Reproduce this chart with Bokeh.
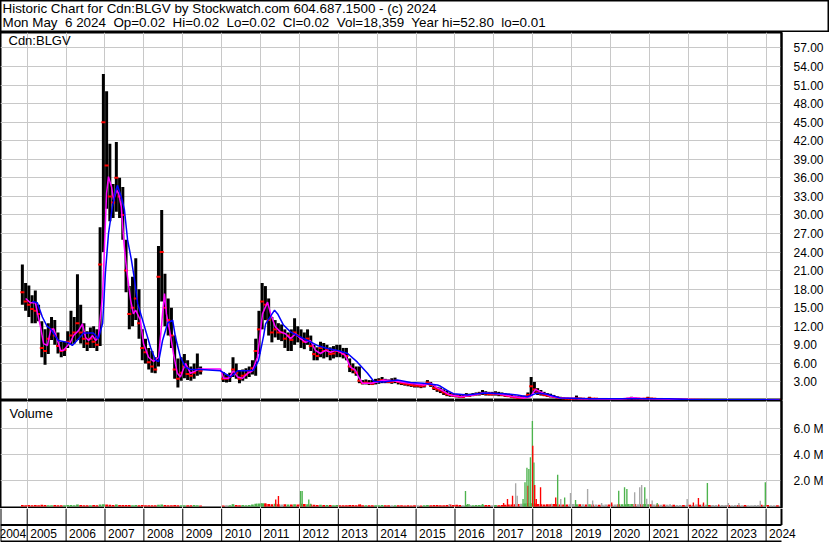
from bokeh.plotting import figure
from bokeh.layouts import column
from bokeh.models import Range1d, FixedTicker, NumeralTickFormatter, Label
from bokeh.core.properties import value
from bokeh.embed import file_html
from bokeh.resources import INLINE

FONT = "Liberation Sans"
NB = "\u00a0"

# ---------------- texts ----------------
title_line1 = "Historic Chart for Cdn:BLGV by Stockwatch.com 604.687.1500 - (c) 2024"
title_line2 = ("Mon May" + NB + " 6 2024" + NB + " Op=0.02" + NB + " Hi=0.02" + NB + " Lo=0.02" + NB +
               " Cl=0.02" + NB + " Vol=18,359" + NB + " Year hi=52.80" + NB + " lo=0.01")
symbol_label = "Cdn:BLGV"
volume_label = "Volume"

# ---------------- ticks ----------------
year_starts = [2004, 2005, 2006, 2007, 2008, 2009, 2010, 2011, 2012, 2013, 2014,
               2015, 2016, 2017, 2018, 2019, 2020, 2021, 2022, 2023, 2024]
year_labels = ["2004", "2005", "2006", "2007", "2008", "2009", "2010", "2011", "2012", "2013", "2014",
               "2015", "2016", "2017", "2018", "2019", "2020", "2021", "2022", "2023", "2024"]
price_ticks = [3, 6, 9, 12, 15, 18, 21, 24, 27, 30, 33, 36, 39, 42, 45, 48, 51, 54, 57]
vol_ticks = [2, 4, 6]               # millions
vol_tick_labels = ["2.0 M", "4.0 M", "6.0 M"]

# ---------------- monthly price data (Nov 2004 - May 2024, no trading Jul-Dec 2009) ----------------
highs = [
    22.0, 19.0,
    18.6, 17.0, 17.8, 15.5, 12.8, 11.5, 12.5, 13.5, 13.0, 11.0, 9.5, 9.5,
    11.2, 14.5, 13.5, 20.4, 15.5, 12.5, 11.2, 11.8, 12.0, 11.5, 28.0, 52.8,
    50.0, 41.5, 35.0, 41.8, 36.0, 34.5, 26.0, 18.5, 20.0, 23.0, 18.0, 11.5,
    10.0, 8.5, 8.0, 7.0, 25.0, 30.8, 20.5, 16.5, 15.0, 10.5, 6.8, 7.0,
    7.5, 6.5, 5.5, 6.0, 7.6, 5.5,
    4.6, 4.2, 4.5, 7.0, 6.0, 4.8, 5.0, 5.2, 5.5, 6.5, 10.0, 14.5,
    19.0, 18.5, 16.5, 13.5, 13.0, 12.5, 12.3, 11.5, 11.0, 11.5, 13.3, 12.0,
    11.5, 11.0, 11.5, 10.5, 9.0, 8.6, 9.5, 9.3, 9.0, 8.6, 8.8, 9.0,
    9.0, 8.5, 8.5, 6.8, 6.0, 5.5, 5.5, 3.3, 3.4, 3.3, 3.3, 3.5,
    3.6, 3.8, 3.5, 3.4, 3.6, 3.7, 3.3, 3.0, 3.0, 2.9, 2.8, 2.7,
    2.7, 2.7, 2.8, 3.3, 3.0, 2.5, 2.2, 2.1, 1.8, 1.6, 1.3, 1.1,
    1.0, 0.9, 0.9, 1.2, 1.1, 1.2, 1.3, 1.4, 1.7, 1.5, 1.4, 1.4,
    1.5, 1.4, 1.3, 1.2, 1.1, 0.9, 0.8, 0.7, 0.7, 0.8, 1.3, 3.8,
    3.0, 2.0, 1.7, 1.4, 1.2, 1.1, 0.9, 0.7, 0.6, 0.5, 0.45, 0.4,
    0.4, 0.8, 0.45, 0.4, 0.35, 0.6, 0.4, 0.4, 0.35, 0.35, 0.3, 0.3,
    0.3, 0.3, 0.25, 0.3, 0.35, 0.4, 0.6, 0.45, 0.4, 0.35, 0.4, 0.6,
    0.45, 0.4, 0.35, 0.3, 0.3, 0.28, 0.25, 0.22, 0.2, 0.2, 0.18, 0.18,
    0.15, 0.15, 0.14, 0.14, 0.13, 0.13, 0.12, 0.12, 0.12, 0.11, 0.11, 0.11,
    0.1, 0.1, 0.1, 0.09, 0.09, 0.09, 0.08, 0.08, 0.08, 0.07, 0.07, 0.07,
    0.06, 0.06, 0.05, 0.04, 0.03,
]
lows = [
    15.5, 14.5,
    13.5, 12.5, 12.5, 12.8, 7.0, 5.8, 7.5, 9.8, 9.0, 7.6, 7.0, 7.2,
    8.5, 9.0, 9.2, 9.8, 9.2, 8.5, 8.0, 8.5, 8.5, 8.0, 8.8, 24.0,
    31.0, 29.0, 29.5, 30.5, 29.5, 26.0, 17.5, 11.5, 12.0, 13.0, 10.0, 6.5,
    6.0, 5.0, 4.5, 4.4, 5.5, 16.0, 12.0, 10.5, 8.5, 3.5, 2.1, 3.2,
    3.6, 3.3, 3.2, 3.5, 4.0, 4.2,
    3.0, 2.9, 3.0, 3.8, 3.5, 2.8, 3.2, 3.5, 3.8, 4.2, 4.0, 7.5,
    11.5, 13.0, 10.5, 9.4, 10.2, 9.8, 9.6, 8.5, 8.0, 8.0, 9.0, 9.4,
    8.5, 8.3, 9.0, 8.0, 6.5, 6.5, 7.0, 6.8, 7.0, 6.5, 6.8, 7.0,
    7.0, 6.8, 6.5, 4.6, 4.4, 4.0, 2.8, 2.6, 2.6, 2.5, 2.5, 2.6,
    2.7, 2.8, 2.8, 2.8, 2.7, 2.8, 2.6, 2.5, 2.4, 2.3, 2.2, 2.1,
    2.1, 2.0, 2.1, 2.5, 2.2, 1.7, 1.4, 1.2, 0.9, 0.7, 0.6, 0.6,
    0.5, 0.45, 0.45, 0.6, 0.6, 0.7, 0.8, 0.8, 0.9, 0.8, 0.8, 0.8,
    0.8, 0.7, 0.7, 0.6, 0.6, 0.5, 0.4, 0.35, 0.35, 0.4, 0.5, 0.8,
    1.2, 0.9, 0.8, 0.7, 0.6, 0.5, 0.45, 0.35, 0.3, 0.3, 0.25, 0.2,
    0.2, 0.25, 0.2, 0.2, 0.2, 0.2, 0.2, 0.2, 0.18, 0.18, 0.15, 0.15,
    0.15, 0.15, 0.1, 0.12, 0.15, 0.2, 0.25, 0.2, 0.2, 0.18, 0.2, 0.25,
    0.2, 0.2, 0.15, 0.15, 0.12, 0.12, 0.12, 0.1, 0.1, 0.1, 0.08, 0.08,
    0.07, 0.07, 0.07, 0.06, 0.06, 0.06, 0.06, 0.05, 0.05, 0.05, 0.05, 0.05,
    0.04, 0.04, 0.04, 0.04, 0.04, 0.03, 0.03, 0.03, 0.03, 0.03, 0.03, 0.02,
    0.02, 0.02, 0.02, 0.01, 0.01,
]
closes = [
    17.5, 16.0,
    15.5, 14.8, 14.5, 14.0, 8.5, 8.0, 10.0, 11.5, 10.5, 8.8, 8.0, 8.2,
    9.5, 10.5, 11.0, 12.5, 11.0, 10.0, 9.2, 10.0, 9.5, 9.0, 22.0, 45.0,
    38.0, 33.0, 32.0, 36.0, 33.0, 30.0, 21.0, 14.0, 15.0, 16.5, 12.5, 8.5,
    7.8, 6.2, 5.5, 5.0, 20.0, 24.0, 15.0, 13.0, 10.5, 5.0, 3.5, 4.5,
    5.5, 4.3, 4.0, 4.5, 5.0, 4.8,
    3.5, 3.5, 3.8, 5.0, 4.5, 3.5, 4.0, 4.2, 4.6, 5.2, 8.0, 11.5,
    16.0, 15.5, 13.0, 11.0, 11.5, 11.0, 11.0, 10.0, 10.5, 9.8, 11.0, 10.5,
    10.0, 9.5, 10.0, 8.8, 7.5, 7.2, 8.5, 8.0, 8.2, 7.5, 7.6, 8.0,
    7.8, 7.5, 7.2, 5.5, 5.0, 4.5, 3.2, 2.8, 2.9, 2.8, 2.7, 3.0,
    3.2, 3.3, 3.1, 3.0, 3.0, 3.2, 3.0, 2.8, 2.7, 2.6, 2.5, 2.4,
    2.4, 2.3, 2.4, 2.9, 2.5, 2.0, 1.8, 1.6, 1.3, 1.0, 0.9, 0.8,
    0.7, 0.6, 0.6, 0.8, 0.8, 0.9, 1.0, 1.1, 1.2, 1.1, 1.0, 1.0,
    1.1, 1.0, 0.9, 0.8, 0.7, 0.6, 0.5, 0.45, 0.45, 0.5, 0.9, 2.3,
    1.8, 1.3, 1.1, 0.9, 0.8, 0.7, 0.6, 0.5, 0.4, 0.35, 0.3, 0.3,
    0.3, 0.35, 0.3, 0.3, 0.25, 0.35, 0.3, 0.3, 0.25, 0.25, 0.25, 0.2,
    0.2, 0.2, 0.15, 0.2, 0.25, 0.3, 0.35, 0.3, 0.3, 0.25, 0.3, 0.35,
    0.3, 0.3, 0.25, 0.25, 0.2, 0.2, 0.2, 0.15, 0.15, 0.15, 0.12, 0.12,
    0.1, 0.1, 0.1, 0.09, 0.09, 0.09, 0.08, 0.08, 0.08, 0.08, 0.08, 0.08,
    0.07, 0.07, 0.07, 0.06, 0.06, 0.05, 0.05, 0.05, 0.05, 0.05, 0.04, 0.04,
    0.03, 0.03, 0.03, 0.02, 0.02,
]
# monthly background volume, thousands of shares
base_volume = [
    120, 100,
    110, 100, 120, 90, 130, 110, 100, 90, 110, 100, 90, 100,
    110, 120, 100, 150, 110, 100, 90, 100, 110, 100, 140, 160,
    150, 130, 110, 140, 120, 110, 120, 110, 100, 110, 100, 110,
    100, 90, 100, 90, 130, 140, 110, 100, 90, 110, 100, 90,
    90, 100, 90, 110, 100, 80,
    80, 90, 100, 160, 110, 90, 110, 100, 120, 140, 200, 230,
    250, 220, 180, 160, 200, 170, 150, 160, 140, 150, 170, 150,
    200, 180, 160, 150, 130, 120, 130, 120, 110, 110, 100, 110,
    100, 100, 100, 120, 110, 100, 140, 100, 90, 90, 90, 100,
    100, 110, 90, 100, 90, 100, 90, 90, 80, 90, 80, 90,
    90, 80, 90, 110, 100, 120, 110, 100, 100, 120, 150, 120,
    130, 120, 100, 120, 110, 100, 110, 120, 130, 120, 110, 100,
    110, 100, 120, 130, 140, 150, 160, 180, 200, 220, 250, 250,
    220, 180, 160, 150, 160, 170, 180, 160, 150, 140, 140, 160,
    180, 170, 160, 170, 150, 160, 150, 140, 130, 130, 140, 150,
    150, 140, 160, 170, 160, 180, 190, 180, 170, 170, 180, 170,
    160, 150, 140, 130, 140, 130, 120, 130, 120, 120, 110, 120,
    130, 120, 140, 130, 140, 130, 120, 110, 120, 110, 110, 120,
    110, 100, 120, 110, 100, 110, 100, 100, 110, 120, 130, 120,
    110, 100, 90, 100, 80,
]

# single-day volume spikes: (decimal year, millions of shares, colour)
volume_spikes = [
    (2010.28, 0.15, "green"), (2010.90, 0.20, "green"), (2011.02, 0.23, "green"),
    (2011.08, 0.23, "green"), (2011.12, 0.22, "red"), (2011.39, 0.54, "red"),
    (2011.46, 0.80, "red"), (2012.03, 1.20, "green"), (2012.07, 1.20, "green"),
    (2012.24, 0.54, "green"), (2012.29, 0.20, "green"), (2013.57, 0.15, "red"),
    (2015.86, 0.18, "gray"), (2016.27, 1.20, "green"), (2016.32, 0.18, "green"),
    (2016.36, 0.18, "green"), (2016.71, 0.18, "green"), (2017.25, 0.26, "red"),
    (2017.35, 0.57, "red"), (2017.48, 0.83, "red"), (2017.56, 1.80, "gray"),
    (2017.60, 0.83, "gray"), (2017.75, 0.57, "green"), (2017.80, 1.87, "green"),
    (2017.85, 3.00, "green"), (2017.88, 1.60, "red"), (2017.90, 2.90, "green"),
    (2017.94, 3.80, "green"), (2017.99, 6.60, "green"), (2018.00, 4.70, "red"),
    (2018.03, 3.40, "green"), (2018.05, 1.66, "red"), (2018.09, 0.57, "red"),
    (2018.20, 1.48, "red"), (2018.48, 0.20, "gray"), (2018.59, 0.70, "red"),
    (2018.64, 2.44, "green"), (2018.72, 0.57, "gray"), (2018.82, 0.70, "green"),
    (2018.97, 1.04, "gray"), (2019.10, 0.50, "green"), (2019.41, 1.35, "gray"),
    (2019.54, 0.45, "gray"), (2019.77, 0.26, "gray"), (2020.03, 0.30, "red"),
    (2020.21, 1.22, "green"), (2020.36, 1.48, "green"), (2020.42, 1.35, "green"),
    (2020.62, 1.10, "gray"), (2020.75, 1.48, "gray"), (2020.80, 1.66, "gray"),
    (2020.88, 1.48, "green"), (2020.93, 0.60, "gray"), (2021.07, 0.45, "gray"),
    (2021.20, 0.26, "green"), (2021.53, 0.18, "gray"), (2021.97, 0.57, "gray"),
    (2022.13, 0.30, "red"), (2022.26, 0.65, "red"), (2022.39, 0.30, "red"),
    (2022.49, 1.82, "green"), (2022.78, 0.15, "red"), (2023.03, 0.26, "gray"),
    (2023.30, 0.26, "gray"), (2023.85, 0.44, "gray"), (2023.98, 1.87, "green"),
]

# moving averages: (decimal year, price)
ma_short = [
    (2004.96, 16.5), (2005.08, 15.8), (2005.21, 15.8), (2005.26, 14.2), (2005.34, 12.0),
    (2005.42, 9.2), (2005.52, 8.9), (2005.60, 11.3), (2005.68, 11.6), (2005.78, 9.7),
    (2005.86, 8.1), (2005.93, 8.1), (2006.04, 8.9), (2006.11, 9.4), (2006.19, 10.5),
    (2006.32, 11.3), (2006.42, 12.4), (2006.50, 10.2), (2006.58, 9.7), (2006.68, 10.5),
    (2006.76, 9.7), (2006.83, 10.2), (2006.94, 17.3), (2006.99, 25.4), (2007.04, 33.5),
    (2007.09, 36.2), (2007.17, 34.5), (2007.22, 32.4), (2007.30, 34.0), (2007.35, 33.5),
    (2007.42, 31.3), (2007.48, 26.0), (2007.53, 22.7), (2007.58, 20.0), (2007.66, 16.2),
    (2007.73, 14.0), (2007.79, 14.6), (2007.91, 13.0), (2007.99, 9.2), (2008.12, 7.0),
    (2008.25, 6.3), (2008.38, 7.0), (2008.48, 14.0), (2008.53, 17.3), (2008.58, 14.0),
    (2008.66, 11.4), (2008.76, 7.6), (2008.86, 4.4), (2008.94, 3.8), (2009.07, 6.0),
    (2009.20, 4.4), (2009.33, 4.8), (2009.41, 5.1), (2009.97, 5.1), (2010.05, 3.6),
    (2010.18, 3.6), (2010.30, 4.8), (2010.41, 3.8), (2010.54, 3.6), (2010.67, 4.4),
    (2010.79, 4.8), (2010.92, 7.0), (2011.05, 14.0), (2011.18, 15.9), (2011.26, 14.0),
    (2011.38, 11.9), (2011.51, 11.1), (2011.64, 10.8), (2011.77, 10.0), (2011.90, 10.8),
    (2012.03, 10.0), (2012.16, 9.4), (2012.28, 9.7), (2012.41, 8.1), (2012.54, 7.6),
    (2012.67, 8.1), (2012.80, 7.8), (2012.93, 8.1), (2013.06, 7.8), (2013.18, 7.3),
    (2013.31, 5.4), (2013.44, 4.9), (2013.52, 3.8), (2013.62, 2.8), (2013.83, 2.8),
    (2014.01, 3.0), (2014.16, 3.3), (2014.42, 3.2), (2014.68, 2.9), (2014.94, 2.7),
    (2015.19, 2.5), (2015.37, 2.8), (2015.55, 2.0), (2015.63, 1.8), (2015.81, 1.1),
    (2015.88, 0.9), (2016.14, 0.6), (2016.48, 0.9), (2016.73, 1.2), (2017.09, 1.1),
    (2017.43, 0.7), (2017.76, 0.4), (2017.94, 0.6), (2018.07, 1.8), (2018.20, 1.4),
    (2018.45, 0.7), (2018.71, 0.4), (2019.23, 0.3), (2020.26, 0.25), (2020.57, 0.45),
    (2020.90, 0.3), (2021.80, 0.2), (2022.83, 0.1), (2024.34, 0.08),
]
ma_long = [
    (2005.13, 16.0), (2005.26, 15.8), (2005.39, 13.5), (2005.51, 12.0), (2005.60, 11.6),
    (2005.80, 9.7), (2006.04, 9.4), (2006.16, 8.9), (2006.32, 10.0), (2006.45, 10.9),
    (2006.70, 10.9), (2006.83, 10.0), (2006.94, 12.5), (2007.01, 20.6), (2007.09, 27.0),
    (2007.19, 31.3), (2007.27, 33.7), (2007.32, 34.8), (2007.42, 32.9), (2007.50, 30.8),
    (2007.58, 26.0), (2007.68, 22.7), (2007.76, 19.5), (2007.84, 15.7), (2007.99, 12.5),
    (2008.17, 8.6), (2008.30, 6.5), (2008.38, 6.3), (2008.48, 9.7), (2008.61, 12.5),
    (2008.74, 13.0), (2008.81, 10.3), (2008.94, 7.0), (2009.07, 5.4), (2009.20, 5.0),
    (2009.46, 5.0), (2009.97, 4.8), (2010.23, 3.8), (2010.41, 4.8), (2010.67, 4.8),
    (2010.82, 4.9), (2010.95, 6.5), (2011.08, 10.5), (2011.13, 12.4), (2011.36, 14.6),
    (2011.44, 14.0), (2011.59, 12.2), (2011.77, 11.1), (2011.95, 10.5), (2012.21, 9.7),
    (2012.46, 8.9), (2012.72, 8.4), (2012.98, 8.1), (2013.24, 7.6), (2013.49, 6.2),
    (2013.75, 4.4), (2013.91, 3.1), (2014.16, 3.0), (2014.52, 3.3), (2014.86, 2.9),
    (2015.19, 2.8), (2015.55, 2.5), (2015.63, 2.3), (2015.81, 1.6), (2015.96, 1.1),
    (2016.32, 0.9), (2016.73, 1.2), (2017.24, 1.1), (2017.60, 0.9), (2017.86, 0.6),
    (2018.11, 1.2), (2018.37, 1.0), (2018.71, 0.4), (2019.50, 0.3), (2021.50, 0.3),
    (2022.00, 0.15), (2024.35, 0.1),
]

# ---------------- derived coordinates ----------------
months = []
for yy in range(2004, 2025):
    for mm in range(1, 13):
        tag = f"{yy}-{mm:02d}"
        if tag < "2004-11" or tag > "2024-05":
            continue
        if "2009-07" <= tag <= "2009-12":
            continue
        months.append(tag)
xs = [int(t[:4]) + (int(t[5:]) - 0.5) / 12.0 for t in months]
n = min(len(xs), len(highs), len(lows), len(closes), len(base_volume))
xs, highs, lows, closes, base_volume = xs[:n], highs[:n], lows[:n], closes[:n], base_volume[:n]

GREEN, RED, GRAY = "#4db34d", "#ff0000", "#a8a8a8"
cmap = {"green": GREEN, "red": RED, "gray": GRAY}
base_colors = []
for i in range(n):
    if i == 0 or closes[i] < closes[i - 1]:
        base_colors.append(RED)
    elif closes[i] > closes[i - 1]:
        base_colors.append(GREEN)
    else:
        base_colors.append(GRAY)
base_vol_m = [vv / 1000.0 for vv in base_volume]

x_start, x_end = 2004.313, 2024.396
FW = 781          # frame width of price/volume panels
RB = 48           # right axis strip
TOTAL_W = FW + RB
GRID = "#c8c8c8"

common = dict(toolbar_location=None, output_backend="svg", title=None,
              min_border_left=0, min_border_top=0, min_border_bottom=0)

# ---------------- header ----------------
HH = 32
hdr = figure(frame_width=TOTAL_W, frame_height=HH, x_range=Range1d(0, 1), y_range=Range1d(0, 1),
             x_axis_location=None, y_axis_location=None, min_border_right=0, **common)
hdr.grid.visible = False
hdr.outline_line_color = "black"
hdr.outline_line_width = 2
hdr.add_layout(Label(x=2, y=24, x_units="screen", y_units="screen", text=title_line1,
                     text_baseline="alphabetic", text_font=FONT, text_font_size="13.4px",
                     text_color="black"))
hdr.add_layout(Label(x=2, y=10.5, x_units="screen", y_units="screen", text=title_line2,
                     text_baseline="alphabetic", text_font=FONT, text_font_size="13.4px",
                     text_color="black"))

# ---------------- price panel ----------------
PH = 368
xr = Range1d(x_start, x_end)
p = figure(frame_width=FW, frame_height=PH, x_range=xr, y_range=Range1d(0, 59.5),
           x_axis_location=None, y_axis_location="right", min_border_right=RB, **common)
p.yaxis.ticker = FixedTicker(ticks=price_ticks)
p.yaxis.formatter = NumeralTickFormatter(format="0.00")
p.ygrid.ticker = FixedTicker(ticks=price_ticks)
p.xgrid.ticker = FixedTicker(ticks=year_starts)

p.segment(x0=xs, y0=lows, x1=xs, y1=highs, line_color="black", line_width=3)
p.scatter(x=xs, y=closes, marker="dash", size=4, line_color=RED, line_width=2)
p.line([d for d, _ in ma_short], [vv for _, vv in ma_short], line_color="#ff00ff", line_width=1.5)
p.line([d for d, _ in ma_long], [vv for _, vv in ma_long], line_color="#0000ff", line_width=1.5)
p.add_layout(Label(x=8, y=PH - 8, x_units="screen", y_units="screen", text=symbol_label,
                   text_baseline="alphabetic", text_font=FONT, text_font_size="13px",
                   text_color="black"))

# ---------------- volume panel ----------------
VH = 108
v = figure(frame_width=FW, frame_height=VH, x_range=xr, y_range=Range1d(-0.16, 8.19),
           x_axis_location=None, y_axis_location="right", min_border_right=RB, **common)
v.yaxis.ticker = FixedTicker(ticks=vol_ticks)
v.yaxis.major_label_overrides = dict(zip(vol_ticks, vol_tick_labels))
v.ygrid.ticker = FixedTicker(ticks=vol_ticks)
v.xgrid.ticker = FixedTicker(ticks=year_starts)
v.vbar(x=xs, top=base_vol_m, width=0.07, fill_color=base_colors, line_color=None)
v.vbar(x=[d for d, _, _ in volume_spikes], top=[m for _, m, _ in volume_spikes], width=0.035,
       fill_color=[cmap[c] for _, _, c in volume_spikes], line_color=None)
v.add_layout(Label(x=9, y=VH - 13, x_units="screen", y_units="screen", text=volume_label,
                   text_baseline="alphabetic", text_font=FONT, text_font_size="13px",
                   text_color="black"))

for fig in (p, v):
    ax = fig.yaxis[0]
    ax.major_tick_line_color = None
    ax.minor_tick_line_color = None
    ax.axis_line_color = "black"
    ax.axis_line_width = 2
    ax.major_label_text_font = FONT
    ax.major_label_text_font_size = "12px"
    ax.major_label_text_color = "black"
    ax.major_label_standoff = 6
    fig.grid.grid_line_color = GRID
    fig.grid.grid_line_width = 1
    fig.outline_line_color = "black"
    fig.outline_line_width = 2

# ---------------- year strip ----------------
SH = 34
x_ext_end = x_start + (x_end - x_start) * TOTAL_W / FW
s = figure(frame_width=TOTAL_W, frame_height=SH, x_range=Range1d(x_start, x_ext_end),
           y_range=Range1d(-0.03, 1), x_axis_location=None, y_axis_location=None,
           min_border_right=0, **common)
s.grid.visible = False
s.outline_line_color = None
ny = len(year_starts)
s.segment(x0=year_starts, y0=[0] * ny, x1=year_starts, y1=[1] * ny, line_color="black", line_width=1)
s.segment(x0=[x_start, x_start], y0=[0.5, 0], x1=[x_end, x_end], y1=[0.5, 0],
          line_color="black", line_width=2)
s.segment(x0=[x_start, x_end], y0=[0, 0.5], x1=[x_start, x_end], y1=[1, 1],
          line_color="black", line_width=2)
s.text(x=year_starts[1:2], y=[0.24], text=year_labels[0:1], text_align="right", x_offset=-1,
       text_baseline="middle", text_font=value(FONT), text_font_size=value("12px"), text_color="black")
s.text(x=year_starts[1:], y=[0.24] * (ny - 1), text=year_labels[1:], text_align="left", x_offset=3,
       text_baseline="middle", text_font=value(FONT), text_font_size=value("12px"), text_color="black")

layout = column(hdr, p, v, s)
open("out.html", "w").write(file_html(layout, INLINE))
